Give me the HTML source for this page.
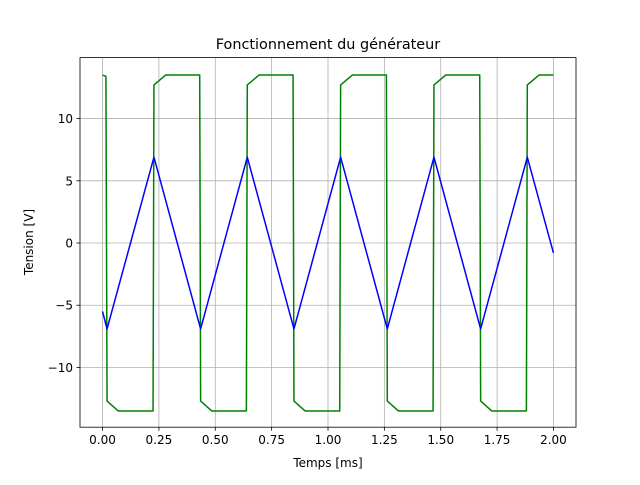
<!DOCTYPE html>
<html><head><meta charset="utf-8"><style>
body{margin:0;background:#fff;}
svg{font-family:"DejaVu Sans","Liberation Sans",sans-serif;}
</style></head><body>
<svg id="chart" width="640" height="480" xmlns="http://www.w3.org/2000/svg">
<rect width="640" height="480" fill="#fff"/>
<text x="328" y="49" font-size="14.4" text-anchor="middle">Fonctionnement du générateur</text>
<g id="grid"></g>
<g id="series"></g>
<rect x="80" y="57.6" width="496" height="369.6" fill="none" stroke="#000" stroke-width="0.8"/>
<g id="ticks" font-size="12"></g>
<text x="328" y="467" font-size="12" text-anchor="middle">Temps [ms]</text>
<text transform="translate(33,242) rotate(-90)" font-size="12" text-anchor="middle">Tension [V]</text>
</svg>
<script>
const xTicks=[0,0.25,0.5,0.75,1.0,1.25,1.5,1.75,2.0];
const xTickLabels=["0.00","0.25","0.50","0.75","1.00","1.25","1.50","1.75","2.00"];
const yTicks=[-10,-5,0,5,10];
const yTickLabels=["\u221210","\u22125","0","5","10"];
const triT=[0,0.02,0.228,0.435,0.642,0.849,1.056,1.263,1.47,1.677,1.884,2.0];
const triV=[-5.5,-6.9,6.9,-6.9,6.9,-6.9,6.9,-6.9,6.9,-6.9,6.9,-0.8];
const sqT=[0,0.015,0.02,0.07,0.224,0.228,0.28,0.431,0.435,0.485,0.638,0.642,0.694,0.845,0.849,0.899,1.052,1.056,1.108,1.259,1.263,1.313,1.466,1.47,1.522,1.673,1.677,1.727,1.88,1.884,1.936,2.0];
const sqV=[13.5,13.4,-12.7,-13.5,-13.5,12.7,13.5,13.5,-12.7,-13.5,-13.5,12.7,13.5,13.5,-12.7,-13.5,-13.5,12.7,13.5,13.5,-12.7,-13.5,-13.5,12.7,13.5,13.5,-12.7,-13.5,-13.5,12.7,13.5,13.5];
const NS="http://www.w3.org/2000/svg";
const L=80,R=576,T=57.6,B=427.2,x0=-0.1,x1=2.1,y0=-14.8,y1=14.9;
const sx=v=>L+(v-x0)/(x1-x0)*(R-L);
const sy=v=>B-(v-y0)/(y1-y0)*(B-T);
function mk(tag,attrs,parent){const e=document.createElementNS(NS,tag);for(const k in attrs)e.setAttribute(k,attrs[k]);parent.appendChild(e);return e;}
const grid=document.getElementById('grid'),ticks=document.getElementById('ticks'),series=document.getElementById('series');
xTicks.forEach((t,i)=>{const x=sx(t);
 const g=mk('line',{x1:x,x2:x,y1:T,y2:B,stroke:'#b0b0b0','stroke-width':0.8},grid);
 
 
 const tk=mk('line',{x1:x,x2:x,y1:B,y2:B+3.5,stroke:'#000','stroke-width':0.8},ticks);
 
 
 const tx=mk('text',{x:x,y:B+17,'text-anchor':'middle'},ticks);tx.textContent=xTickLabels[i];
 
 
});
yTicks.forEach((t,i)=>{const y=sy(t);
 const g=mk('line',{x1:L,x2:R,y1:y,y2:y,stroke:'#b0b0b0','stroke-width':0.8},grid);
 
 
 const tk=mk('line',{x1:L-3.5,x2:L,y1:y,y2:y,stroke:'#000','stroke-width':0.8},ticks);
 
 
 const tx=mk('text',{x:L-7,y:y+4.5,'text-anchor':'end'},ticks);tx.textContent=yTickLabels[i];
 
 
});
function line(ts,vs,color,name){
 const p=mk('polyline',{points:ts.map((t,i)=>sx(t)+','+sy(vs[i])).join(' '),fill:'none',stroke:color,'stroke-width':1.5,'stroke-linejoin':'round'},series);
 
 
}
line(sqT,sqV,'#008000','square-wave-line');
line(triT,triV,'#0000ff','triangle-wave-line');
</script>
</body></html>
